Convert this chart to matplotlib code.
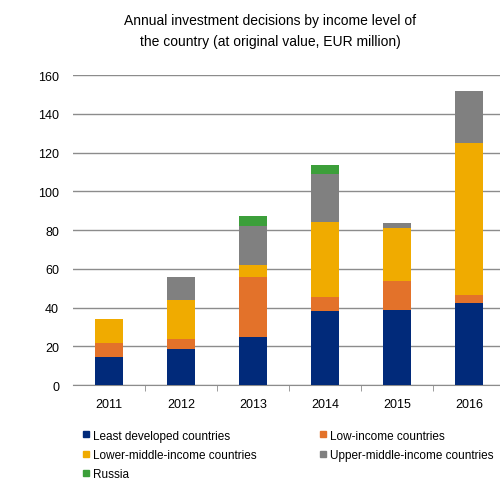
import matplotlib
matplotlib.use("Agg")
import matplotlib.pyplot as plt
from matplotlib.lines import Line2D
import numpy as np

plt.rcParams['font.family'] = ['Liberation Sans', 'DejaVu Sans']

years = ['2011', '2012', '2013', '2014', '2015', '2016']
series_names = ['Least developed countries', 'Low-income countries',
                'Lower-middle-income countries', 'Upper-middle-income countries',
                'Russia']
least_developed = [14.3, 18.6, 24.6, 38.4, 38.9, 42.2]
low_income = [7.2, 5.1, 31.1, 6.9, 14.9, 4.3]
lower_middle = [12.5, 20.2, 6.2, 39.0, 27.1, 78.6]
upper_middle = [0.0, 11.8, 20.0, 24.8, 2.7, 26.8]
russia = [0.0, 0.0, 5.2, 4.3, 0.0, 0.0]
colors = ['#012a7a', '#e3722a', '#f0ab00', '#808080', '#3c9f3a']

fig = plt.figure(figsize=(5, 4.85), dpi=100)
ax = fig.add_axes([0.146, 0.204, 0.864, 0.639])

x = np.arange(len(years))
bottom = np.zeros(len(years))
for vals, c in zip([least_developed, low_income, lower_middle, upper_middle, russia], colors):
    ax.bar(x, vals, width=0.4, bottom=bottom, color=c, zorder=3)
    bottom += np.array(vals)

ax.set_xlim(-0.5, 5.5)
ax.set_ylim(0, 160)
ax.set_yticks(range(0, 161, 20))
ax.grid(axis='y', color='#8c8c8c', linewidth=1, zorder=0)
for s in ['top', 'right', 'left']:
    ax.spines[s].set_visible(False)
ax.spines['bottom'].set_color('#8c8c8c')
ax.set_xticks(x)
ax.set_xticklabels(years)
ax.set_xticks(np.arange(0.5, 5.5, 1), minor=True)
ax.tick_params(axis='x', which='major', length=0, pad=9, labelsize=9)
ax.tick_params(axis='x', which='minor', length=4, color='#8c8c8c')
ax.tick_params(axis='y', length=0, pad=10, labelsize=9)

fig.text(0.54, 0.935, 'Annual investment decisions by income level of\nthe country (at original value, EUR million)',
         ha='center', va='center', fontsize=10, linespacing=1.55)

# legend fills column by column, so reorder to read row by row
order = [0, 2, 4, 1, 3]
handles = [Line2D([], [], marker='s', linestyle='', color=colors[i], markersize=5) for i in order]
labels = [series_names[i] for i in order]
fig.legend(handles, labels, loc='upper left', bbox_to_anchor=(0.148, 0.122),
           ncol=2, frameon=False, fontsize=8.5, handletextpad=0.0, handlelength=1.2,
           columnspacing=5.0, labelspacing=0.62, borderaxespad=0)

fig.savefig('out.png', dpi=100)
